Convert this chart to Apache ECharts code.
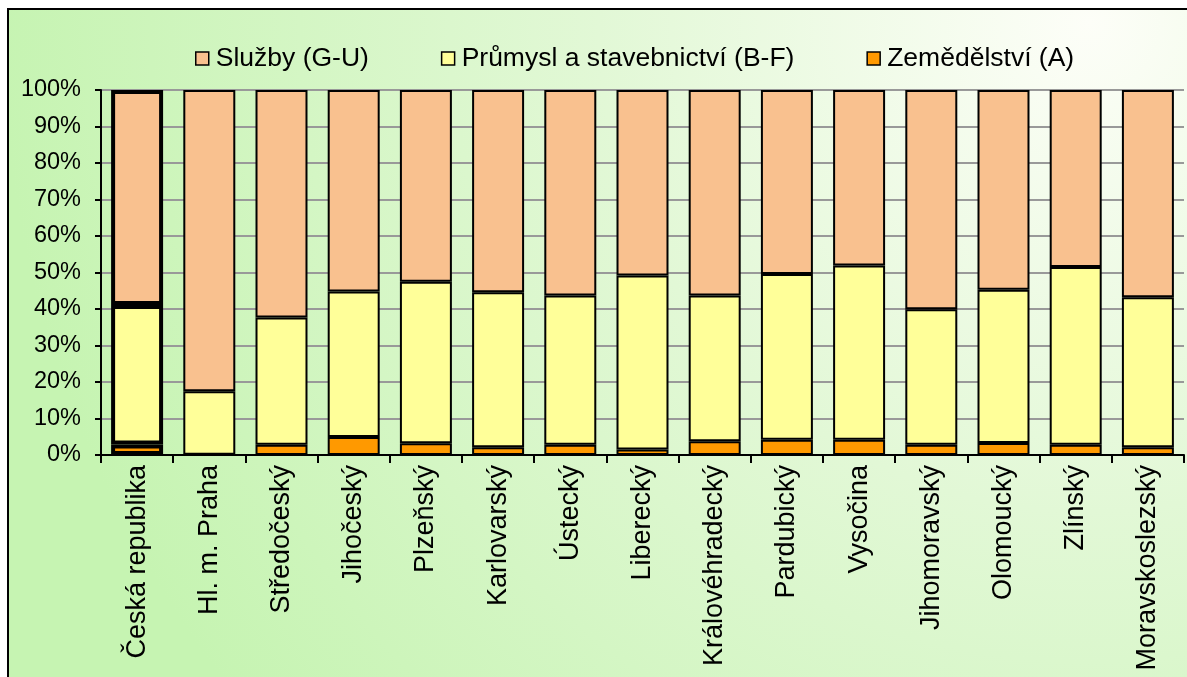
<!DOCTYPE html>
<html>
<head>
<meta charset="utf-8">
<script src="https://cdn.jsdelivr.net/npm/echarts@6/dist/echarts.min.js"></script>
<style>
    html, body {margin: 0; padding: 0; background: #fff;}
    #main {width: 1187px; height: 677px;}
</style>
</head>
<body>
<div id="main"></div>
<script>
// kraje
var regions = ['Česká republika', 'Hl. m. Praha', 'Středočeský', 'Jihočeský', 'Plzeňský', 'Karlovarský',
    'Ústecký', 'Liberecký', 'Královéhradecký', 'Pardubický', 'Vysočina', 'Jihomoravský',
    'Olomoucký', 'Zlínský', 'Moravskoslezský'];
// podil v %
var zemedelstvi = [2.9, 0.1, 2.8, 4.9, 3.2, 2.1, 2.8, 1.5, 3.8, 4.2, 4.2, 2.8, 3.3, 2.8, 2.1];
var prumysl = [38.2, 17.4, 34.9, 39.9, 44.3, 42.5, 40.9, 47.7, 39.9, 45.4, 47.7, 37.1, 42.0, 48.7, 41.1];
var sluzby = [58.9, 82.5, 62.3, 55.2, 52.5, 55.4, 56.3, 50.8, 56.3, 50.4, 48.1, 60.1, 54.7, 48.5, 56.8];
var yTicks = [0, 10, 20, 30, 40, 50, 60, 70, 80, 90, 100];

var font = '"Liberation Sans", Arial, sans-serif';

// first bar (CR) has a thick outline
var with_outline = function (arr) {
    return arr.map(function (v, i) {
        if (i == 0) return {value: v, itemStyle: {borderWidth: 4}};
        return v;
    });
};

var make_series = function (name, color, data) {
    return {
        name: name,
        type: 'bar',
        stack: 'all',
        barCategoryGap: '28%',
        itemStyle: {color: color, borderColor: '#000', borderWidth: 2},
        data: with_outline(data)
    };
};

var chart = echarts.init(document.getElementById('main'));
var option = {
    backgroundColor: '#fff',
    animation: false,
    graphic: [{
        type: 'rect',
        z: -10,
        shape: {x: 8, y: 9, width: 1200, height: 700},
        style: {
            fill: {
                type: 'radial', x: 0.9, y: 0.02, r: 1.55,
                colorStops: [
                    {offset: 0, color: '#fdfef8'},
                    {offset: 0.45, color: '#e2f8d6'},
                    {offset: 1, color: '#c6f4b2'}
                ]
            },
            stroke: '#000',
            lineWidth: 2
        }
    }],
    legend: {
        left: 190,
        top: 40,
        itemWidth: 13,
        itemHeight: 13,
        itemGap: 72,
        icon: 'rect',
        itemStyle: {borderColor: '#000', borderWidth: 1.5},
        textStyle: {fontFamily: font, fontSize: 26.5, color: '#000', padding: [0, 0, 0, 2]},
        data: ['Služby (G-U)', 'Průmysl a stavebnictví (B-F)', 'Zemědělství (A)']
    },
    grid: {left: 101, top: 90, right: 3, bottom: 222, containLabel: false},
    xAxis: {
        type: 'category',
        data: regions,
        axisLine: {lineStyle: {color: '#000', width: 2}},
        axisTick: {show: true, length: 8, lineStyle: {color: '#000', width: 2}},
        axisLabel: {
            rotate: 90, margin: 10, interval: 0,
            fontFamily: font, fontSize: 27, color: '#000'
        }
    },
    yAxis: {
        type: 'value',
        min: yTicks[0],
        max: yTicks[yTicks.length - 1],
        interval: 10,
        axisLine: {show: true, lineStyle: {color: '#000', width: 2}},
        axisTick: {show: true, length: 6, lineStyle: {color: '#000', width: 2}},
        splitLine: {lineStyle: {color: '#999', width: 2}},
        axisLabel: {
            margin: 20,
            fontFamily: font, fontSize: 23.5, color: '#000',
            formatter: function (v) { return v + '%'; }
        }
    },
    series: [
        make_series('Zemědělství (A)', '#ff9900', zemedelstvi),
        make_series('Průmysl a stavebnictví (B-F)', '#ffff99', prumysl),
        make_series('Služby (G-U)', '#f9c18f', sluzby)
    ]
};
chart.setOption(option);
</script>
</body>
</html>
